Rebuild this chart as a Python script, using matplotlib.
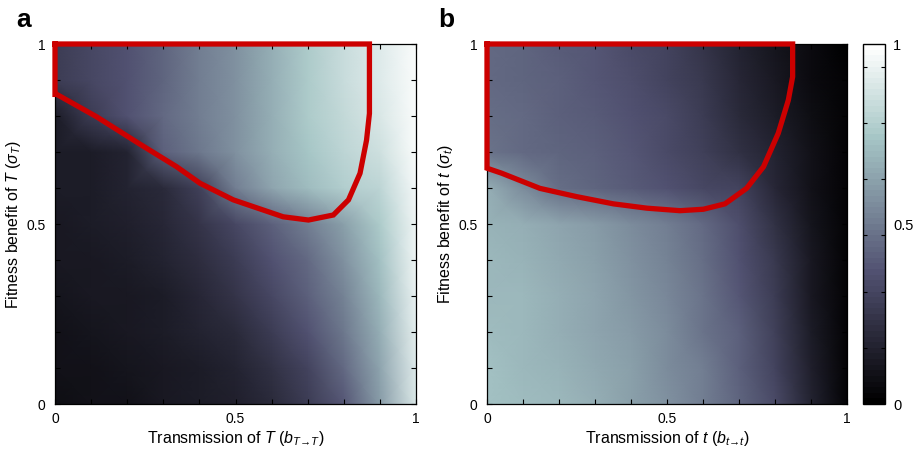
import numpy as np
import matplotlib.pyplot as plt
from matplotlib.colors import ListedColormap

plt.rcParams['font.family'] = ['Liberation Sans', 'DejaVu Sans']
plt.rcParams['mathtext.fontset'] = 'custom'
plt.rcParams['mathtext.rm'] = 'Liberation Sans'
plt.rcParams['mathtext.it'] = 'Liberation Sans:italic'
plt.rcParams['mathtext.bf'] = 'Liberation Sans:bold'

# parameter sweep (same for both panels)
trans_vals = [0.0, 0.1, 0.2, 0.3, 0.4, 0.5, 0.6, 0.7, 0.8, 0.9, 1.0]
fit_vals = [0.0, 0.1, 0.2, 0.3, 0.4, 0.5, 0.6, 0.7, 0.8, 0.9, 1.0]

# panel a, rows = fitness 0 -> 1, cols = transmission 0 -> 1
freq_a = [
    [0.07, 0.08, 0.09, 0.11, 0.13, 0.15, 0.20, 0.27, 0.38, 0.60, 0.88],
    [0.08, 0.09, 0.10, 0.12, 0.14, 0.17, 0.23, 0.31, 0.44, 0.64, 0.90],
    [0.09, 0.10, 0.11, 0.13, 0.16, 0.20, 0.27, 0.36, 0.49, 0.67, 0.92],
    [0.10, 0.11, 0.12, 0.14, 0.18, 0.24, 0.32, 0.41, 0.53, 0.70, 0.93],
    [0.11, 0.12, 0.14, 0.16, 0.21, 0.28, 0.37, 0.45, 0.57, 0.72, 0.94],
    [0.12, 0.13, 0.15, 0.18, 0.24, 0.32, 0.41, 0.50, 0.62, 0.75, 0.95],
    [0.13, 0.14, 0.16, 0.20, 0.29, 0.50, 0.63, 0.71, 0.77, 0.80, 0.96],
    [0.13, 0.14, 0.17, 0.42, 0.49, 0.57, 0.66, 0.74, 0.80, 0.85, 0.97],
    [0.14, 0.28, 0.37, 0.44, 0.50, 0.57, 0.66, 0.75, 0.82, 0.88, 0.97],
    [0.27, 0.32, 0.37, 0.43, 0.50, 0.57, 0.66, 0.75, 0.83, 0.90, 0.97],
    [0.27, 0.32, 0.37, 0.43, 0.50, 0.57, 0.66, 0.75, 0.83, 0.90, 0.97],
]

# panel b
freq_b = [
    [0.72, 0.71, 0.69, 0.66, 0.62, 0.57, 0.50, 0.43, 0.33, 0.16, 0.02],
    [0.72, 0.70, 0.68, 0.65, 0.61, 0.56, 0.50, 0.42, 0.31, 0.15, 0.02],
    [0.71, 0.70, 0.67, 0.64, 0.60, 0.55, 0.48, 0.41, 0.29, 0.14, 0.02],
    [0.70, 0.69, 0.66, 0.63, 0.59, 0.54, 0.47, 0.39, 0.27, 0.12, 0.02],
    [0.69, 0.68, 0.65, 0.62, 0.57, 0.52, 0.46, 0.37, 0.25, 0.11, 0.02],
    [0.68, 0.66, 0.64, 0.60, 0.55, 0.50, 0.44, 0.35, 0.22, 0.10, 0.02],
    [0.66, 0.55, 0.46, 0.43, 0.40, 0.36, 0.32, 0.30, 0.18, 0.09, 0.02],
    [0.47, 0.45, 0.43, 0.41, 0.38, 0.34, 0.29, 0.23, 0.16, 0.08, 0.02],
    [0.46, 0.44, 0.42, 0.40, 0.37, 0.33, 0.27, 0.20, 0.13, 0.07, 0.02],
    [0.45, 0.43, 0.41, 0.39, 0.35, 0.31, 0.25, 0.18, 0.11, 0.06, 0.02],
    [0.45, 0.43, 0.40, 0.38, 0.34, 0.30, 0.24, 0.17, 0.10, 0.05, 0.01],
]

# red region boundaries
edge_a_x = [0.0, 0.0, 0.005, 0.115, 0.235, 0.337, 0.402, 0.494, 0.632, 0.702,
            0.771, 0.813, 0.845, 0.863, 0.871, 0.871, 0.0]
edge_a_y = [1.0, 0.86, 0.86, 0.798, 0.722, 0.659, 0.613, 0.567, 0.520, 0.511,
            0.525, 0.567, 0.641, 0.733, 0.807, 1.0, 1.0]

edge_b_x = [0.0, 0.0, 0.041, 0.147, 0.249, 0.351, 0.444, 0.536, 0.601, 0.661,
            0.721, 0.768, 0.809, 0.837, 0.849, 0.849, 0.0]
edge_b_y = [1.0, 0.655, 0.641, 0.599, 0.576, 0.556, 0.544, 0.537, 0.541, 0.556,
            0.599, 0.659, 0.752, 0.844, 0.909, 1.0, 1.0]

labels = ['a', 'b']
xlabels = ['Transmission of $T$ ($b_{T\u2192T}$)', 'Transmission of $t$ ($b_{t\u2192t}$)']
ylabels = ['Fitness benefit of $T$ ($\\sigma_T$)', 'Fitness benefit of $t$ ($\\sigma_t$)']

cmap = ListedColormap(plt.get_cmap('bone')(np.linspace(0, 1, 64)))
red = '#cc0000'

fig = plt.figure(figsize=(9.19, 4.5), dpi=100)
ax_a = fig.add_axes([55/919, 46/450, 361/919, 360/450])
ax_b = fig.add_axes([487/919, 46/450, 360/919, 360/450])
cax = fig.add_axes([863/919, 46/450, 22/919, 360/450])

X, Y = np.meshgrid(trans_vals, fit_vals)
tick_lbl = ['0', '', '', '', '', '0.5', '', '', '', '', '1']

for ax, Z, ex, ey, let, xl, yl in zip([ax_a, ax_b], [freq_a, freq_b],
                                      [edge_a_x, edge_b_x], [edge_a_y, edge_b_y],
                                      labels, xlabels, ylabels):
    pcm = ax.pcolormesh(X, Y, np.array(Z), shading='gouraud', cmap=cmap, vmin=0, vmax=1)
    ax.plot(ex, ey, color=red, lw=3.8, clip_on=False, zorder=5,
            solid_joinstyle='miter')
    ax.set_xlim(0, 1)
    ax.set_ylim(0, 1)
    ax.set_xticks(np.arange(0, 1.01, 0.1))
    ax.set_yticks(np.arange(0, 1.01, 0.1))
    ax.set_xticklabels(tick_lbl)
    ax.set_yticklabels(tick_lbl)
    ax.tick_params(direction='in', length=3.5, width=0.8, top=True, right=True,
                   labelsize=10)
    ax.tick_params(axis='x', pad=6)
    ax.tick_params(axis='y', pad=7)
    for s in ax.spines.values():
        s.set_linewidth(0.9)
    ax.set_xlabel(xl, fontsize=11.5)
    ax.set_ylabel(yl, fontsize=11.5)
    ax.xaxis.set_label_coords(0.5, -0.07)
    ax.yaxis.set_label_coords(-0.09, 0.5)

fig.text(16/919, 1 - 27/450, 'a', fontsize=19, fontweight='bold', va='baseline')
fig.text(438/919, 1 - 27/450, 'b', fontsize=19, fontweight='bold', va='baseline')

cb = fig.colorbar(pcm, cax=cax)
cb.set_ticks([0, 0.5, 1])
cb.set_ticklabels(['0', '0.5', '1'])
cb.ax.set_yticks([i / 64 for i in range(10, 61, 10)], minor=True)
cb.ax.tick_params(which='major', length=0, labelsize=10.5, pad=6)
cb.ax.tick_params(which='minor', direction='in', left=True, right=True,
                  length=3, width=0.8)
cb.outline.set_linewidth(1.0)

fig.savefig('out.png', dpi=100)
